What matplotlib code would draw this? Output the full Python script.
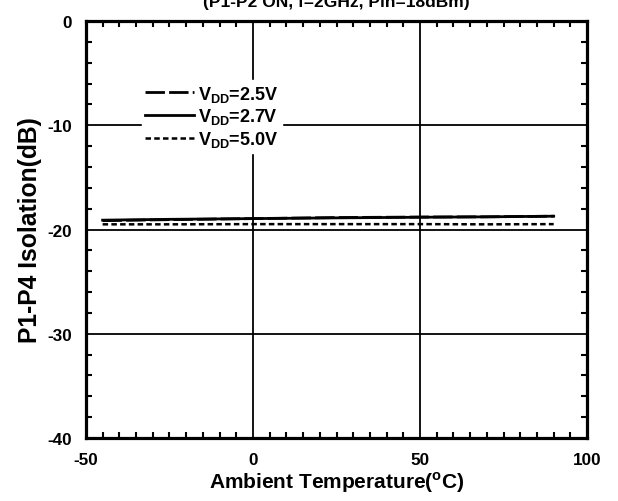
import matplotlib
matplotlib.use("Agg")
import matplotlib.pyplot as plt
from matplotlib.ticker import MultipleLocator

plt.rcParams['font.family'] = ['Liberation Sans', 'DejaVu Sans']
plt.rcParams['font.weight'] = 'bold'
plt.rcParams['axes.unicode_minus'] = False
plt.rcParams['mathtext.fontset'] = 'custom'
plt.rcParams['mathtext.rm'] = 'Liberation Sans:bold'
plt.rcParams['mathtext.bf'] = 'Liberation Sans:bold'

# Isolation vs ambient temperature
temps = [-45, -25, 0, 25, 50, 70, 90]
iso_25 = [-19.15, -19.05, -18.95, -18.85, -18.8, -18.78, -18.72]
iso_27 = [-19.1, -19.02, -18.95, -18.88, -18.82, -18.78, -18.72]
iso_50 = [-19.5, -19.5, -19.48, -19.48, -19.48, -19.5, -19.48]
labels = ['V$_{\\rm DD}$=2.5V', 'V$_{\\rm DD}$=2.7V', 'V$_{\\rm DD}$=5.0V']

fig = plt.figure(figsize=(6.18, 5.02), dpi=100)
ax = fig.add_axes([0.139, 0.1255, 0.811, 0.8305])

ax.plot(temps, iso_25, color='black', lw=2.0, dashes=(7, 1.5), label=labels[0])
ax.plot(temps, iso_27, color='black', lw=2.0, label=labels[1])
ax.plot(temps, iso_50, color='black', lw=1.8, dashes=(2.2, 1.3), label=labels[2])

ax.set_xlim(-50, 100)
ax.set_ylim(-40, 0)
ax.xaxis.set_major_locator(MultipleLocator(50))
ax.xaxis.set_minor_locator(MultipleLocator(5))
ax.yaxis.set_major_locator(MultipleLocator(10))
ax.yaxis.set_minor_locator(MultipleLocator(2))
ax.grid(True, which='major', color='black', lw=1.3)
ax.tick_params(which='both', direction='in', top=True, right=True, width=1.5,
               labelsize=12.3)
ax.tick_params(axis='x', which='major', length=0, pad=10)
ax.tick_params(axis='y', which='major', length=0, pad=10)
ax.tick_params(which='minor', length=4)
for s in ax.spines.values():
    s.set_linewidth(2.3)
for lb in ax.get_xticklabels() + ax.get_yticklabels():
    lb.set_fontweight('bold')

ax.set_xlabel('Ambient Temperature($^{\\rm o}$C)', fontsize=15, fontweight='bold', labelpad=2)
ax.set_ylabel('P1-P4 Isolation(dB)', fontsize=17.7, fontweight='bold', labelpad=4)
ax.text(0.5, 1.028, '(P1-P2 ON, f=2GHz, Pin=18dBm)', transform=ax.transAxes,
        ha='center', va='bottom', fontsize=12.5, fontweight='bold')

leg = ax.legend(loc='upper left', bbox_to_anchor=(0.093, 0.88), frameon=True,
                fancybox=False, edgecolor='white', facecolor='white', framealpha=1,
                fontsize=13, handlelength=2.7, handletextpad=0.25, labelspacing=0.15,
                borderpad=0.2)
for t in leg.get_texts():
    t.set_fontweight('bold')

fig.savefig('out.png', dpi=100)
